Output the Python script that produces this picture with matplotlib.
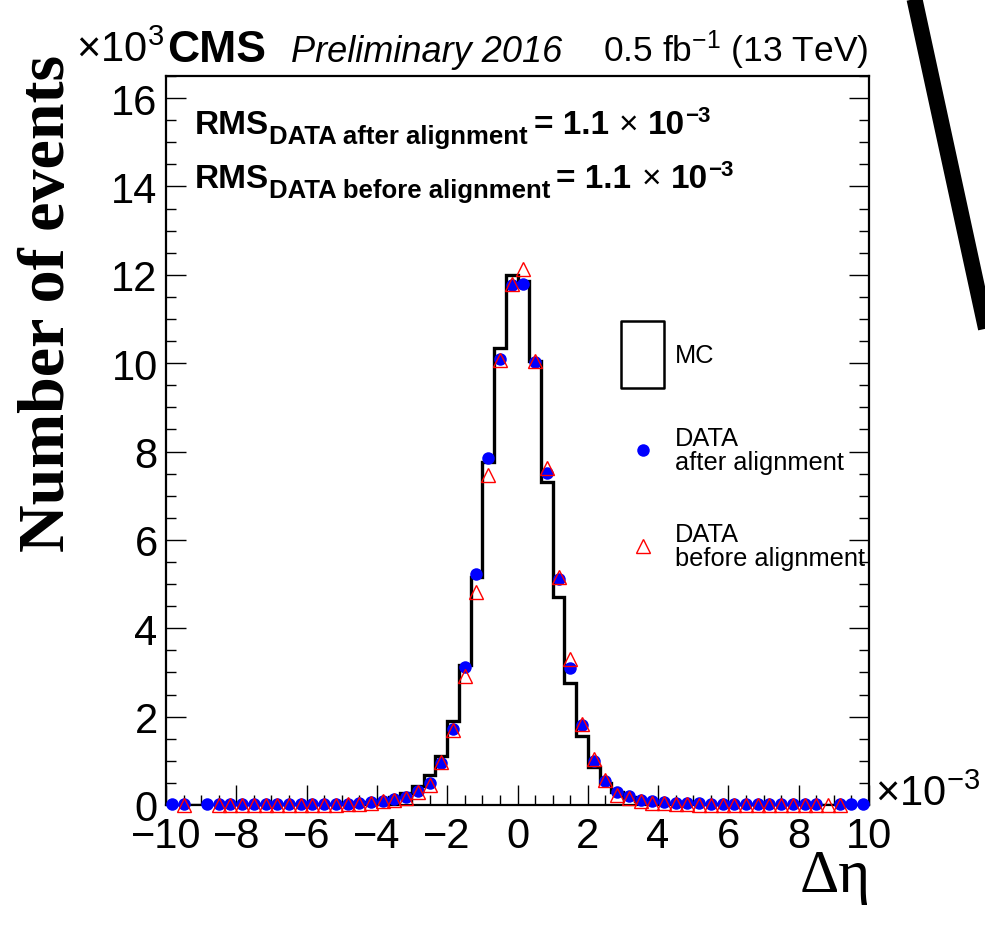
import numpy as np
import matplotlib
matplotlib.use("Agg")
import matplotlib.pyplot as plt
from matplotlib.lines import Line2D
from matplotlib.patches import Rectangle
from matplotlib.ticker import MultipleLocator

plt.rcParams['font.family'] = ['Liberation Sans', 'DejaVu Sans']
plt.rcParams['mathtext.fontset'] = 'custom'
plt.rcParams['mathtext.rm'] = 'Liberation Sans'
plt.rcParams['mathtext.bf'] = 'Liberation Sans:bold'
plt.rcParams['mathtext.it'] = 'Liberation Sans:italic'

# delta eta bins, in units of 1e-3 (60 bins from -10 to 10)
edges = np.linspace(-10, 10, 61)
centers = 0.5 * (edges[:-1] + edges[1:])

nan = np.nan
# events per bin, in units of 1e3
mc = [0.01, 0.01, 0.01, 0.01, 0.01, 0.01, 0.01, 0.02, 0.02, 0.02,
      0.02, 0.02, 0.03, 0.03, 0.03, 0.04, 0.05, 0.07, 0.11, 0.17,
      0.27, 0.43, 0.69, 1.11, 1.89, 3.16, 5.16, 7.77, 10.34, 11.99,
      11.87, 10.04, 7.32, 4.71, 2.77, 1.57, 0.85, 0.49, 0.29, 0.17,
      0.09, 0.06, 0.04, 0.03, 0.03, 0.02, 0.02, 0.02, 0.02, 0.02,
      0.01, 0.01, 0.01, 0.01, 0.01, 0.01, 0.01, 0.01, 0.01, 0.01]

data_after = [0.02, 0.02, nan, 0.02, 0.02, 0.02, 0.02, 0.02, 0.02, 0.02,
              0.02, 0.02, 0.02, 0.03, 0.03, 0.03, 0.05, 0.07, 0.10, 0.13,
              0.17, 0.31, 0.50, 0.94, 1.72, 3.12, 5.22, 7.85, 10.10, 11.76,
              11.79, 10.02, 7.51, 5.12, 3.10, 1.80, 0.99, 0.54, 0.30, 0.20,
              0.12, 0.08, 0.06, 0.05, 0.04, 0.04, 0.03, 0.03, 0.03, 0.03,
              0.03, 0.03, 0.03, 0.03, 0.03, 0.03, nan, 0.03, 0.02, 0.02]

data_before = [nan, 0.01, nan, nan, 0.01, 0.01, 0.01, 0.01, 0.01, 0.01,
               0.01, 0.01, 0.01, 0.01, 0.01, 0.02, 0.03, 0.05, 0.08, 0.12,
               0.15, 0.29, 0.45, 0.98, 1.69, 2.93, 4.81, 7.48, 10.08, 11.79,
               12.13, 10.05, 7.62, 5.16, 3.31, 1.84, 1.04, 0.57, 0.22, 0.16,
               0.09, 0.05, 0.04, 0.02, 0.02, 0.01, 0.01, 0.01, 0.01, 0.01,
               0.01, 0.01, 0.01, 0.01, 0.01, 0.01, 0.01, 0.01, nan, nan]

W, H = 985, 928
fig = plt.figure(figsize=(W / 100, H / 100), dpi=100)
ax = fig.add_axes([166 / W, 1 - 806 / H, 703 / W, 729 / H])


def fx(x):
    return x / W


def fy(y):
    return 1 - y / H


ax.stairs(mc, edges, color='black', lw=2.4, zorder=2)
ax.plot(centers, data_after, 'o', color='blue', ms=9, mew=0,
        clip_on=False, zorder=3)
ax.plot(centers, data_before, '^', mfc='none', mec='red', ms=9.5, mew=1.0,
        clip_on=False, zorder=4)

ax.set_xlim(-10, 10)
ax.set_ylim(0, 16.5)
ax.xaxis.set_major_locator(MultipleLocator(2))
ax.xaxis.set_minor_locator(MultipleLocator(0.5))
ax.yaxis.set_major_locator(MultipleLocator(2))
ax.yaxis.set_minor_locator(MultipleLocator(0.5))
ax.tick_params(which='both', direction='in', top=False, right=True,
               width=1.0, labelsize=30)
ax.tick_params(which='major', length=14.5)
ax.tick_params(which='minor', length=7)
ax.tick_params(axis='x', pad=8)
ax.tick_params(axis='y', pad=6)
for s in ax.spines.values():
    s.set_linewidth(1.6)

# header
fig.text(fx(76), fy(62), r'$\times10^{3}$', fontsize=30, va='baseline')
fig.text(fx(167), fy(62), 'CMS', fontsize=32, fontweight='bold', va='baseline')
fig.text(fx(291), fy(62), 'Preliminary 2016', fontsize=26, style='italic',
         va='baseline')
fig.text(fx(868), fy(62), r'0.5 fb$^{-1}$ (13 TeV)', fontsize=25.5,
         ha='right', va='baseline')

# axis titles
fig.text(fx(64), fy(303), 'Number of events', family='Liberation Serif',
         fontweight='bold', fontsize=47.5, rotation=90, rotation_mode='anchor',
         ha='center', va='baseline')
fig.text(fx(871), fy(892), 'Δη', family='Liberation Serif', fontsize=44,
         ha='right', va='baseline')
fig.text(fx(875), fy(806), r'$\times10^{-3}$', fontsize=30, va='baseline')

# RMS labels
renderer = fig.canvas.get_renderer()


def chain(x, y, pieces):
    for txt, size, dy, gap, weight in pieces:
        x += gap
        t = fig.text(fx(x), fy(y + dy), txt, fontsize=size, fontweight=weight,
                     va='baseline')
        x += t.get_window_extent(renderer).width


for y0, sub in [(134, 'DATA after alignment'), (188, 'DATA before alignment')]:
    chain(195, y0, [('RMS', 24, 0, 0, 'bold'), (sub, 18.5, 10, 0, 'bold'),
                    ('= 1.1', 24, 0, 6, 'bold'), ('×', 24, 0, 10, 'normal'),
                    ('10', 24, 0, 10, 'bold'), ('−3', 16, -12, 0, 'bold')])

# legend
fig.add_artist(Rectangle((fx(621), fy(389)), fx(43), 67 / H, fill=False,
                         ec='black', lw=1.8, joinstyle='round',
                         transform=fig.transFigure))
fig.text(fx(675), fy(356), 'MC', fontsize=18.3, va='center')
fig.add_artist(Line2D([fx(643)], [fy(451)], marker='o', color='blue', ms=9,
                      mew=0, transform=fig.transFigure))
fig.text(fx(675), fy(451), 'DATA\nafter alignment', fontsize=18.3,
         va='center', linespacing=1.0)
fig.add_artist(Line2D([fx(643)], [fy(547)], marker='^', mfc='none', mec='red',
                      ms=9.5, mew=1.0, transform=fig.transFigure))
fig.text(fx(675), fy(547), 'DATA\nbefore alignment', fontsize=18.3,
         va='center', linespacing=1.0)

# thick stroke at the top-right edge
fig.add_artist(Line2D([fx(912.3), fx(1005.6)], [fy(-10), fy(420)],
                      color='black', lw=11.5, solid_capstyle='butt',
                      transform=fig.transFigure))

fig.savefig('out.png', dpi=100)
